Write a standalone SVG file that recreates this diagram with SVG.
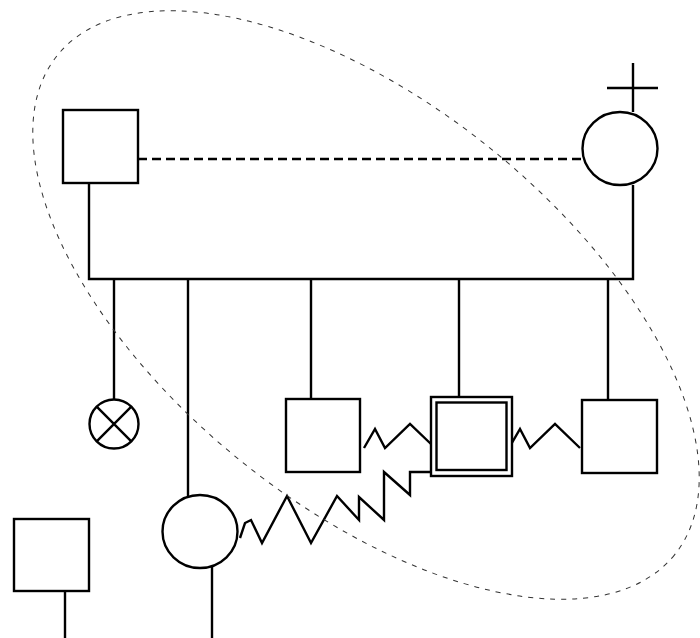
<svg xmlns="http://www.w3.org/2000/svg" width="700" height="638" viewBox="0 0 700 638">
<style>
.s{fill:#fff;stroke:#000;stroke-width:2.4}
.l{fill:none;stroke:#000;stroke-width:2.4;stroke-linejoin:miter}
.d{fill:none;stroke:#000;stroke-width:2.6;stroke-dasharray:9 5}
.e{fill:none;stroke:#333;stroke-width:1;stroke-dasharray:5 6}
</style>
<rect width="700" height="638" fill="#fff"/>
<g id="connectors">
<line class="d" x1="138" y1="159" x2="583" y2="159"/>
<polyline class="l" points="89,183 89,279 633,279 633,185"/>
<line class="l" x1="114" y1="279" x2="114" y2="400"/>
<line class="l" x1="188" y1="279" x2="188" y2="497"/>
<line class="l" x1="311" y1="279" x2="311" y2="399"/>
<line class="l" x1="459" y1="279" x2="459" y2="397"/>
<line class="l" x1="608" y1="279" x2="608" y2="400"/>
<line class="l" x1="633" y1="63" x2="633" y2="112"/>
<line class="l" x1="607" y1="88" x2="658" y2="88"/>
<line class="l" x1="212" y1="567" x2="212" y2="638"/>
<line class="l" x1="65" y1="591" x2="65" y2="638"/>
<polyline class="l" points="364,448 375,429 385,448 410,424 432,445"/>
<polyline class="l" points="509,448 520,429 530,448 555,424 580,448"/>
<polyline class="l" points="240,538 245,523 251,520 262,543 287,496 311,543 337,496 359,520 359,497 384,520 384,472 410,495 410,472 432,472"/>
</g>
<g id="n_father"><rect class="s" x="63" y="110" width="75" height="73"/></g>
<g id="n_mother"><ellipse class="s" cx="620" cy="148.5" rx="37.5" ry="36.5"/></g>
<g id="n_child1"><circle class="s" cx="114" cy="424" r="24.5"/><path class="l" d="M96.7 406.7L131.3 441.3M131.3 406.7L96.7 441.3"/></g>
<g id="n_child2"><ellipse class="s" cx="200" cy="531.5" rx="37.5" ry="36.5"/></g>
<g id="n_child3"><rect class="s" x="286" y="399" width="74" height="73"/></g>
<g id="n_child4"><rect class="s" x="431" y="397" width="81" height="79" stroke-width="3.5"/><rect class="s" x="436.5" y="402.5" width="70" height="67.5" stroke-width="2.5"/></g>
<g id="n_child5"><rect class="s" x="582" y="400" width="75" height="73"/></g>
<g id="n_other"><rect class="s" x="14" y="519" width="75" height="72"/></g>
<g id="group_ellipse"><ellipse class="e" cx="366" cy="305" rx="397" ry="200" transform="rotate(39 366 305)"/></g>
</svg>
